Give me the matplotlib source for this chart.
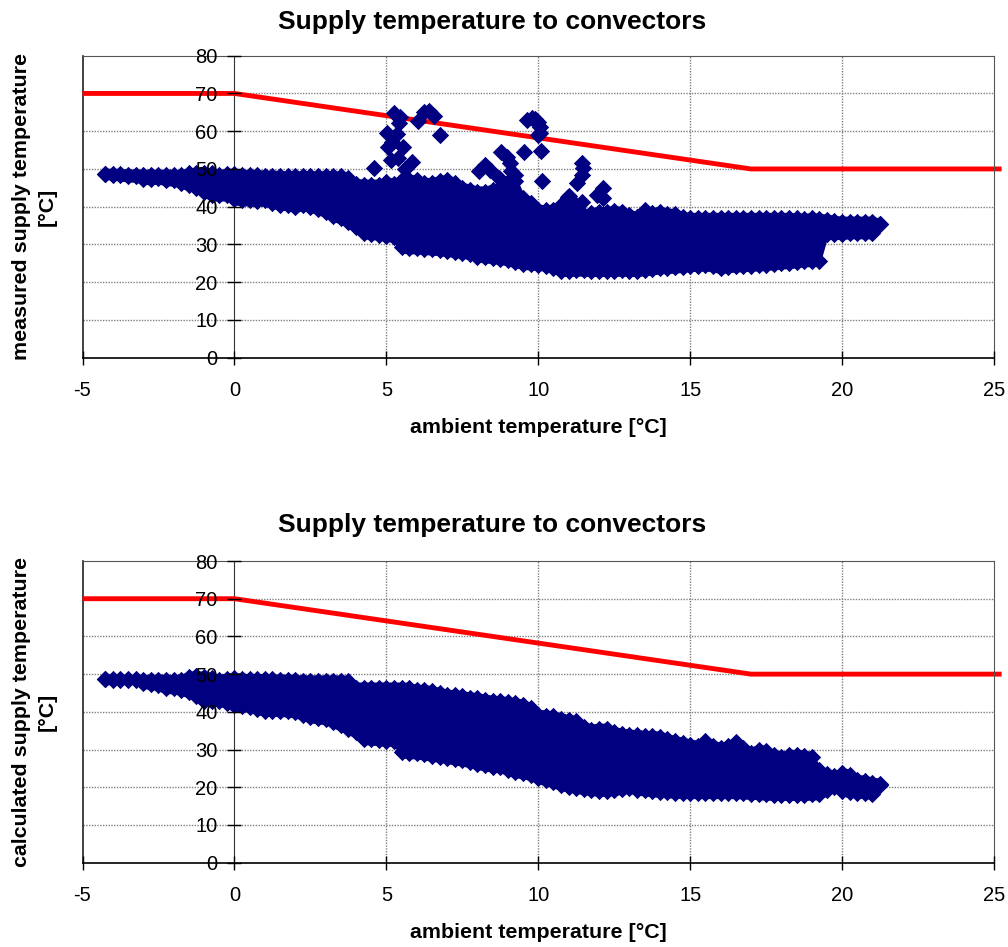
import matplotlib
matplotlib.use('Agg')
import matplotlib.pyplot as plt
import numpy as np

plt.rcParams['font.family'] = ['Liberation Sans', 'DejaVu Sans']
plt.rcParams['axes.unicode_minus'] = False

# ambient temperature columns
ambient = [
    -4.25, -4.0, -3.75, -3.5, -3.25, -3.0, -2.75, -2.5, -2.25, -2.0, -1.75, -1.5,
    -1.25, -1.0, -0.75, -0.5, -0.25, 0.0, 0.25, 0.5, 0.75, 1.0, 1.25, 1.5,
    1.75, 2.0, 2.25, 2.5, 2.75, 3.0, 3.25, 3.5, 3.75, 4.0, 4.25, 4.5,
    4.75, 5.0, 5.25, 5.5, 5.75, 6.0, 6.25, 6.5, 6.75, 7.0, 7.25, 7.5,
    7.75, 8.0, 8.25, 8.5, 8.75, 9.0, 9.25, 9.5, 9.75, 10.0, 10.25, 10.5,
    10.75, 11.0, 11.25, 11.5, 11.75, 12.0, 12.25, 12.5, 12.75, 13.0, 13.25, 13.5,
    13.75, 14.0, 14.25, 14.5, 14.75, 15.0, 15.25, 15.5, 15.75, 16.0, 16.25, 16.5,
    16.75, 17.0, 17.25, 17.5, 17.75, 18.0, 18.25, 18.5, 18.75, 19.0, 19.25, 19.5,
    19.75, 20.0, 20.25, 20.5, 20.75, 21.0, 21.25,
]

# highest and lowest points of each column, measured chart
measured_high = [
    48.7, 48.7, 48.6, 48.5, 48.5, 48.4, 48.5, 48.3, 48.5, 48.4, 48.3, 48.8,
    49, 49, 48.8, 48.4, 48.6, 48.7, 48.5, 48.3, 48.3, 48.2, 48.2, 48.1,
    48, 48, 48, 48, 48, 48, 48, 48, 47.5, 46, 45.8, 45.8,
    45.8, 46.5, 46, 47, 47, 47, 46.3, 46.2, 46.8, 47, 46.3, 45,
    44.5, 44, 44, 44.5, 45, 46.5, 46.7, 42.3, 41, 39.2, 39, 39.2,
    40.5, 42.8, 40.5, 37.9, 38.3, 38.5, 38.6, 38.8, 38.6, 37.9, 37.2, 39.1,
    38.3, 38.6, 38.1, 38.1, 37.2, 37, 37, 37, 37, 37, 37, 37,
    37, 37, 37, 37, 37, 37, 37, 36.9, 36.7, 37, 36.7, 36.6,
    36.2, 36, 36, 36, 36, 36, 35.4,
]
measured_low = [
    48.7, 48.5, 48.3, 48, 48, 47.4, 47.3, 47.5, 47, 47, 46.3, 45.7,
    45, 44, 43, 43, 43, 42, 41.7, 41.7, 41.5, 41.7, 41, 40.5,
    40.5, 39.8, 40.5, 40, 39.3, 38.7, 37.5, 37, 36, 34.5, 33, 32.8,
    32.6, 32.3, 32, 29.2, 29, 29, 28.8, 28.7, 28.5, 28.3, 28, 27.8,
    27.5, 26.8, 26.6, 26.4, 26.2, 25.8, 25.3, 24.9, 24.7, 24.6, 24.4, 23.8,
    23, 23, 23.1, 23.1, 23, 23, 23, 23, 23.1, 23, 23, 23.2,
    23.4, 23.7, 23.8, 23.9, 24.1, 24.3, 24.4, 24.5, 24.2, 23.8, 24, 24.2,
    24.3, 24.4, 24.5, 24.6, 24.8, 25, 25.1, 25.3, 25.6, 25.6, 25.7, 32.8,
    32.8, 32.8, 33, 33, 33, 33, 35.4,
]

# single points standing above the cloud, measured chart
outlier_x = [
    4.6, 5.26, 5.45, 5.43, 5.01, 5.34, 5.07, 5.54, 5.18, 5.14, 5.4, 5.83, 5.6,
    6.03, 6.24, 6.4, 6.58, 6.77, 8.05, 8.25, 8.41, 8.79, 8.96, 9.07, 8.7, 9.25,
    9.1, 9.62, 9.78, 9.9, 10.0, 10.05, 10.05, 10.0, 9.53, 10.08, 10.11, 11.43,
    11.48, 11.43, 11.29, 10.99, 11.43, 12.14, 11.92, 12.14,
]
outlier_y = [
    50.2, 64.7, 63.8, 62.3, 59.4, 59.2, 55.9, 55.9, 57.2, 52.4, 53, 51.9, 50,
    62.8, 65.2, 65.3, 64.1, 59, 49.5, 51, 49.7, 54.6, 53.2, 51.5, 47.5, 48.5,
    49.5, 63, 63.4, 63.3, 62.5, 61.2, 59.4, 59, 54.6, 54.7, 46.8, 51.5,
    50.2, 48.4, 46.2, 42.6, 41.3, 44.9, 43.1, 42.2,
]

# highest and lowest points of each column, calculated chart
calculated_high = [
    48.6, 48.5, 48.5, 48.5, 48.4, 48.5, 48.4, 48.5, 48.5, 48.4, 48.5, 49.3,
    49.4, 49.3, 49, 48.5, 48.8, 48.9, 48.8, 48.6, 48.6, 48.7, 48.6, 48.5,
    48.5, 48.4, 48.3, 48.3, 48.3, 48.3, 48.3, 48.3, 48.2, 46.4, 46.4, 46.4,
    46.4, 46.4, 46.4, 46.4, 46.3, 45.8, 45.8, 45.4, 45, 44.5, 44.4, 44.1,
    43.8, 43.6, 43.2, 42.9, 42.8, 42.5, 42.3, 41.8, 41, 39.2, 39, 38.8,
    38.2, 37.8, 37.5, 36, 35.3, 35.5, 35.5, 34.6, 34.2, 33.9, 33.8, 33.6,
    33.5, 33.4, 32.8, 32.2, 31.8, 31.3, 31, 32.2, 31, 30.4, 31, 31.9,
    30.5, 29.2, 29.9, 29.6, 28.5, 28, 28.6, 28.5, 28.4, 28, 24.5, 23.5,
    22.9, 23.8, 23.3, 21.9, 21.7, 21.2, 20.9,
]
calculated_low = [
    48.7, 48.7, 48.7, 48.7, 48.7, 47.6, 47.5, 47, 46.3, 46.3, 45.8, 45.2,
    44.3, 43, 43, 43, 42.3, 41.7, 41.5, 41.4, 40.8, 40.3, 40.3, 40.3,
    40.1, 39.9, 39.2, 38.6, 38.3, 38.1, 37.2, 36.4, 35.4, 34.6, 32.8, 32.7,
    32.5, 32.4, 32.4, 29.3, 29.1, 29, 28.7, 28.4, 28.1, 27.8, 27.4, 27.1,
    26.7, 26.2, 25.8, 25.5, 25.3, 24.6, 24, 23.8, 23.2, 22.4, 21.9, 21.3,
    20.6, 20.2, 19.9, 19.5, 19.3, 19.1, 19.1, 19.3, 19.6, 19.9, 19.4, 19.2,
    19, 18.8, 18.7, 18.6, 18.5, 18.5, 18.5, 18.5, 18.5, 18.5, 18.5, 18.5,
    18.4, 18.3, 18.2, 18.1, 18, 18, 18, 18, 18, 18.1, 18.2, 19.2,
    20.2, 19.1, 18.8, 18.6, 18.5, 18.3, 20.7,
]

# heating curve
curve_x = [-5, 0, 17, 25.25]
curve_y = [70, 70, 50, 50]

x_ticks = [-5, 0, 5, 10, 15, 20, 25]
y_ticks = [0, 10, 20, 30, 40, 50, 60, 70, 80]

NAVY = '#000080'
RED = '#ff0000'
W, H = 1008, 947
MARKER = 78
# the markers stick out about this far, the fill closes the notches between them
NOTCH = 1.5


def draw_panel(top_px, bottom_px, high, low, ylabel, title_pad, extra_x=None, extra_y=None):
    left_px, right_px = 82.5, 994
    ax = plt.gcf().add_axes([left_px / W, 1 - bottom_px / H,
                             (right_px - left_px) / W, (bottom_px - top_px) / H])
    ax.set_xlim(-5, 25)
    ax.set_ylim(0, 80)
    ax.set_axisbelow(False)

    # grid by hand so it stays under the points but the tick labels stay on top
    ax.hlines(y_ticks[1:-1], -5, 25, color='#808080', lw=1, ls=(0, (1, 1)), zorder=1)
    ax.vlines(x_ticks[2:-1], 0, 80, color='#808080', lw=1, ls=(0, (1, 1)), zorder=1)

    ax.plot(curve_x, curve_y, color=RED, lw=3.5, solid_capstyle='butt',
            solid_joinstyle='miter', clip_on=False, zorder=2)

    ax.fill_between(ambient, np.array(low) - NOTCH, np.array(high) + NOTCH,
                    color=NAVY, lw=0, zorder=2.2)
    ax.scatter(ambient, high, marker='D', s=MARKER, color=NAVY, lw=0, zorder=2.2)
    ax.scatter(ambient, low, marker='D', s=MARKER, color=NAVY, lw=0, zorder=2.2)
    if extra_x is not None:
        ax.scatter(extra_x, extra_y, marker='D', s=MARKER, color=NAVY, lw=0, zorder=2.2)

    # y axis crosses at x=0, the box stays around the plot
    ax.spines['left'].set_position(('data', 0))
    ax.spines['left'].set_color('#333333')
    ax.spines['left'].set_zorder(1.5)
    ax.spines['bottom'].set_color('black')
    ax.spines['bottom'].set_linewidth(1.2)
    ax.spines['top'].set_color('#555555')
    ax.spines['right'].set_color('#555555')
    ax.axvline(-5, color='#222222', lw=1.2, zorder=1.5, clip_on=False)

    ax.set_xticks(x_ticks)
    ax.set_yticks(y_ticks)
    ax.tick_params(axis='both', direction='inout', length=10, width=1,
                   labelsize=14.5, color='black')
    ax.tick_params(axis='x', pad=12)
    ax.tick_params(axis='y', pad=7)

    ax.set_title('Supply temperature to convectors', fontsize=19, fontweight='bold',
                 x=(492 - left_px) / (right_px - left_px), pad=title_pad)
    ax.set_xlabel('ambient temperature [°C]', fontsize=15.4, fontweight='bold', labelpad=12.5)
    plt.gcf().text(34.5 / W, 1 - (top_px + bottom_px) / 2 / H, ylabel, rotation=90,
                   ha='center', va='center', fontsize=15.4, fontweight='bold',
                   multialignment='center', linespacing=1.45)
    return ax


fig = plt.figure(figsize=(W / 100, H / 100), dpi=100)

draw_panel(55.7, 357.7, measured_high, measured_low,
           'measured supply temperature\n[°C]', 19.5, outlier_x, outlier_y)
draw_panel(561, 862.7, calculated_high, calculated_low,
           'calculated supply temperature\n[°C]', 21)

fig.savefig('out.png', dpi=100)
